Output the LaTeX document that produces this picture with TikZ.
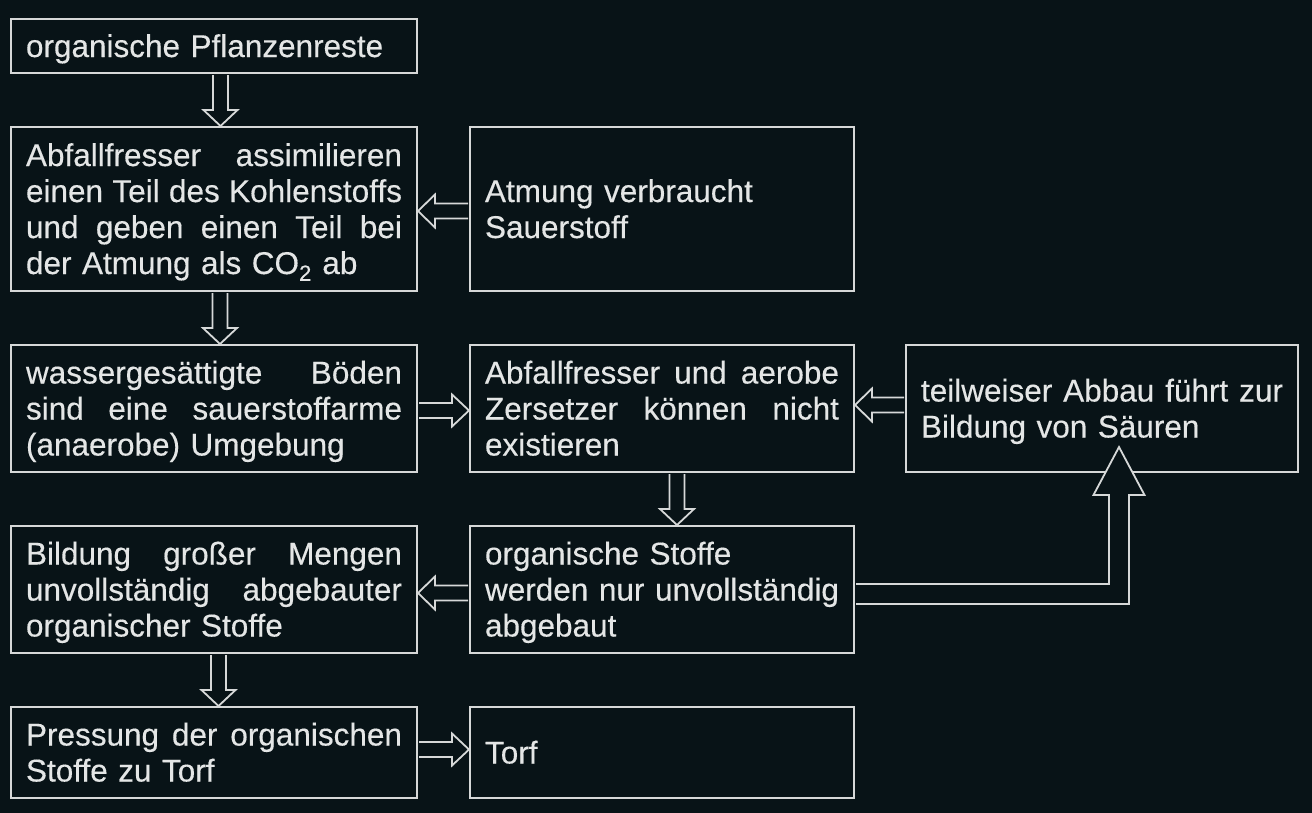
\documentclass[tikz,border=0pt]{standalone}
\usepackage{fontspec}
\setmainfont[FakeBold=0.35]{Liberation Sans}
\usetikzlibrary{calc}
\definecolor{bg}{RGB}{8,19,23}
\definecolor{ln}{RGB}{214,216,216}
\definecolor{tx}{RGB}{228,230,230}
\tikzset{
 box/.style={draw=ln, line width=2pt, rectangle, anchor=north west, inner xsep=15pt, inner ysep=0pt, text=tx, font=\fontsize{31.5}{36}\selectfont, align=left,
   execute at begin node={\rule{0pt}{30pt}}, execute at end node={\rule[-8pt]{0pt}{8pt}}},
 lbox/.style={box, minimum width=406pt, text width=376pt},
 rbox/.style={box, minimum width=384pt, text width=354pt},
 wbox/.style={box, minimum width=392pt, text width=362pt},
 harrow/.style={draw=ln, line width=1.8pt, fill=bg, line join=miter},
}
% down arrow: source, target, x (px)
\newcommand\arrD[3]{\draw[harrow] let \p1=(#1.south), \p2=(#2.north) in
 (#3pt-7.5pt,\y1-1pt) -- (#3pt-7.5pt,\y2+16pt) -- (#3pt-17pt,\y2+16pt) -- (#3pt,\y2) -- (#3pt+17pt,\y2+16pt) -- (#3pt+7.5pt,\y2+16pt) -- (#3pt+7.5pt,\y1-1pt);}
% right arrow: source, target, y (px)
\newcommand\arrR[3]{\draw[harrow] let \p1=(#1.east), \p2=(#2.west) in
 (\x1+1pt,-#3pt+7.5pt) -- (\x2-17pt,-#3pt+7.5pt) -- (\x2-17pt,-#3pt+16pt) -- (\x2,-#3pt) -- (\x2-17pt,-#3pt-16pt) -- (\x2-17pt,-#3pt-7.5pt) -- (\x1+1pt,-#3pt-7.5pt);}
% left arrow: source, target, y (px)
\newcommand\arrL[3]{\draw[harrow] let \p1=(#1.west), \p2=(#2.east) in
 (\x1-1pt,-#3pt+7.5pt) -- (\x2+17pt,-#3pt+7.5pt) -- (\x2+17pt,-#3pt+16.5pt) -- (\x2,-#3pt) -- (\x2+17pt,-#3pt-16.5pt) -- (\x2+17pt,-#3pt-7.5pt) -- (\x1-1pt,-#3pt-7.5pt);}
\begin{document}
\begin{tikzpicture}[x=1pt,y=-1pt]
\useasboundingbox (0,0) rectangle (1312,812);
\fill[bg] (-5,-5) rectangle (1317,817);

\node[lbox, minimum height=54pt] (b1) at (10,18) {organische Pflanzenreste};
\node[lbox, minimum height=164pt] (b2) at (10,126) {Abfallfresser\hfill assimilieren\\ einen\hfill Teil\hfill des\hfill Kohlenstoffs\\ und\hfill geben\hfill einen\hfill Teil\hfill bei\\ der Atmung als CO\textsubscript{2} ab};
\node[rbox, minimum height=164pt] (b3) at (469,126) {Atmung verbraucht\\ Sauerstoff};
\node[lbox, minimum height=127pt] (b4) at (10,344) {wassergesättigte\hfill Böden\\ sind\hfill eine\hfill sauerstoffarme\\ (anaerobe) Umgebung};
\node[rbox, minimum height=127pt] (b5) at (469,344) {Abfallfresser\hfill und\hfill aerobe\\ Zersetzer\hfill können\hfill nicht\\ existieren};
\node[wbox, minimum height=127pt] (b6) at (905,344) {teilweiser\hfill Abbau\hfill führt\hfill zur\\ Bildung von Säuren};
\node[lbox, minimum height=127pt] (b7) at (10,525) {Bildung\hfill großer\hfill Mengen\\ unvollständig\hfill abgebauter\\ organischer Stoffe};
\node[rbox, minimum height=127pt] (b8) at (469,525) {organische Stoffe\\ werden\hfill nur\hfill unvollständig\\ abgebaut};
\node[lbox, minimum height=91pt] (b9) at (10,706) {Pressung\hfill der\hfill organischen\\ Stoffe zu Torf};
\node[rbox, minimum height=91pt] (b10) at (469,706) {Torf};

\arrD{b1}{b2}{220.5}
\arrD{b2}{b4}{220}
\arrD{b7}{b9}{218.5}
\arrD{b5}{b8}{677}
\arrL{b3}{b2}{211}
\arrR{b4}{b5}{410.5}
\arrL{b6}{b5}{405}
\arrL{b8}{b7}{593}
\arrR{b9}{b10}{749.5}
\draw[harrow] let \p1=(b8.east), \p2=(b6.south) in
 (\x1+1pt,-584pt) -- (1109pt,-584pt) -- (1109pt,\y2-22pt) -- (1093.5pt,\y2-22pt) -- (1119pt,\y2+26pt) -- (1144.5pt,\y2-22pt) -- (1129pt,\y2-22pt) -- (1129pt,-604pt) -- (\x1+1pt,-604pt);
\end{tikzpicture}
\end{document}
